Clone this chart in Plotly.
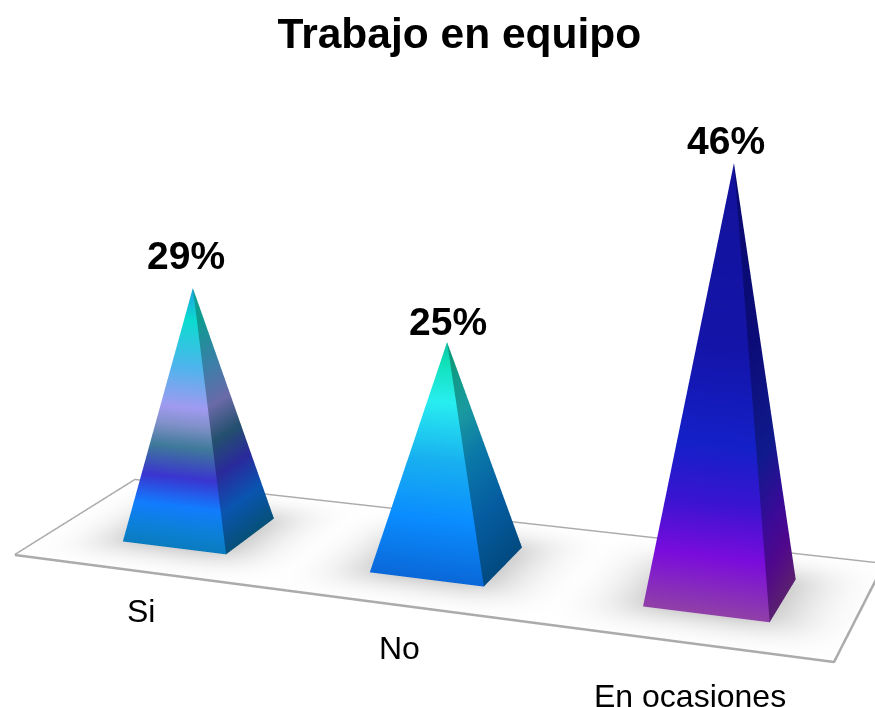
import numpy as np
import plotly.graph_objects as go

# Chart content
categories = ["Si", "No", "En ocasiones"]
values = [29, 25, 46]
chart_title = "Trabajo en equipo"

# Page size and the fixed 45 degree lens of the 3D scene
WIDTH, HEIGHT = 875, 707
FOCAL = (HEIGHT / 2) / np.tan(np.pi / 8)
EYE_DIST = 2.0

# Perspective of the chart: where the floor's corners fall on the page,
# and the point on the page where vertical lines converge
FLOOR_SIZE = (3.0, 1.0)
FLOOR_PAGE = [(15, 555), (834, 662), (884, 564), (135, 480)]
VERTICAL_VANISH = (440, 9500)
HEIGHT_GAIN = -0.00095

BASE_HALF = (0.215, 0.225)
BASE_DEPTH = 0.505
CENTRE_OFFSET = 0.525

# Text placement around the marks
CATEGORY_SHIFT = [0.185, 0.14, 0.115]
CATEGORY_DEPTH = [-0.37, -0.375, -0.44]
VALUE_XSHIFT = [-7, 1, -8]
VALUE_YSHIFT = [32, 21, 23]


def floor_homography():
    w, d = FLOOR_SIZE
    src = [(0, 0), (w, 0), (w, d), (0, d)]
    rows, rhs = [], []
    for (x, y), (u, v) in zip(src, FLOOR_PAGE):
        rows.append([x, y, 1, 0, 0, 0, -u * x, -u * y])
        rows.append([0, 0, 0, x, y, 1, -v * x, -v * y])
        rhs += [u, v]
    h = np.linalg.solve(np.array(rows, float), np.array(rhs, float))
    H = np.append(h, 1).reshape(3, 3)
    return H / (H[2] @ np.array([w / 2, d / 2, 1]))


H = floor_homography()
VZ = HEIGHT_GAIN * np.array([VERTICAL_VANISH[0], VERTICAL_VANISH[1], 1.0])


def to_scene(x, y, h):
    """Chart coordinates (position, depth, value) to scene coordinates."""
    x, y, h = np.asarray(x, float), np.asarray(y, float), np.asarray(h, float)
    q = np.stack([x, y, np.ones_like(x)])
    uw, vw, w = H @ q + VZ.reshape(3, 1) * h
    sx = (uw - WIDTH / 2 * w) / FOCAL * EYE_DIST
    sz = -(vw - HEIGHT / 2 * w) / FOCAL * EYE_DIST
    sy = w * EYE_DIST - EYE_DIST
    return sx, sy, sz


# Colour ramps by share of the pyramid's height: lit face, then shaded face
front_ramps = [
    [[0, "#0a7cc0"], [.07, "#0c80d8"], [.16, "#127cff"], [.27, "#3a35d0"], [.39, "#3f7a9a"],
     [.47, "#7f90c8"], [.54, "#a09af0"], [.7, "#4cb5ec"], [.88, "#0bdcd0"], [1, "#1f9fe0"]],
    [[0, "#0a68d8"], [.25, "#0a8cff"], [.5, "#18b0f0"], [.75, "#28eef0"], [.92, "#10e0b8"], [1, "#10c0a8"]],
    [[0, "#9040a8"], [.13, "#7a0cdc"], [.25, "#3a14d0"], [.38, "#1420c8"], [.6, "#1414a8"], [1, "#12129c"]],
]
side_ramps = [
    [[0, "#06507a"], [.15, "#0a55b0"], [.29, "#2a2a9c"], [.42, "#24506e"], [.55, "#6a6aa8"],
     [.7, "#3a80a8"], [.87, "#0f9a90"], [1, "#10a090"]],
    [[0, "#024a80"], [.25, "#055ca0"], [.5, "#0a78a8"], [.7, "#1a9aa0"], [.9, "#0f9a80"], [1, "#0f9a80"]],
    [[0, "#5a2070"], [.1, "#50088c"], [.2, "#3a0a98"], [.35, "#101a8c"], [.6, "#0c0c78"], [1, "#0a0a70"]],
]

FLAT = dict(ambient=1.0, diffuse=0.0, specular=0.0, roughness=1.0, fresnel=0.0)
centres = [i + CENTRE_OFFSET for i in range(len(values))]

fig = go.Figure()

# Floor with soft shadows around each base
gx, gy = np.meshgrid(np.linspace(0, FLOOR_SIZE[0], 121), np.linspace(0, FLOOR_SIZE[1], 61))
shade = np.zeros_like(gx)
for c in centres:
    shade = np.maximum(shade, 0.30 * np.exp(-(((gx - c) / 0.29) ** 4 + ((gy - BASE_DEPTH) / 0.29) ** 4) ** 0.6))
sx, sy, sz = to_scene(gx.ravel(), gy.ravel(), np.full(gx.size, -0.02))
idx = np.arange(gx.size).reshape(gx.shape)
a, b, c_, d = idx[:-1, :-1].ravel(), idx[:-1, 1:].ravel(), idx[1:, 1:].ravel(), idx[1:, :-1].ravel()
fig.add_trace(go.Mesh3d(
    x=sx, y=sy, z=sz,
    i=np.r_[a, a], j=np.r_[b, c_], k=np.r_[c_, d],
    intensity=shade.ravel(), cmin=0, cmax=1,
    colorscale=[[0, "#ffffff"], [1, "#000000"]],
    showscale=False, lighting=FLAT, hoverinfo="skip",
))

# Floor outline
ex = [0, FLOOR_SIZE[0], FLOOR_SIZE[0], 0, 0]
ey = [0, 0, FLOOR_SIZE[1], FLOOR_SIZE[1], 0]
lx, ly, lz = to_scene(ex, ey, np.zeros(5))
fig.add_trace(go.Scatter3d(
    x=lx, y=ly, z=lz, mode="lines",
    line=dict(color="#ababab", width=5), hoverinfo="skip", showlegend=False,
))

# One pyramid per category: the lit front face and the shaded right face
annotations = []
for i, (cat, val) in enumerate(zip(categories, values)):
    cx = centres[i]
    hw, hd = BASE_HALF
    fl, fr, br = (cx - hw, BASE_DEPTH - hd), (cx + hw, BASE_DEPTH - hd), (cx + hw, BASE_DEPTH + hd)
    apex = (cx, BASE_DEPTH)
    for p, q, ramp in ((fl, fr, front_ramps[i]), (fr, br, side_ramps[i])):
        mx, my, mz = to_scene([p[0], q[0], apex[0]], [p[1], q[1], apex[1]], [0, 0, val])
        fig.add_trace(go.Mesh3d(
            x=mx, y=my, z=mz, i=[0], j=[1], k=[2],
            intensity=[0, 0, val], cmin=0, cmax=val,
            colorscale=ramp, showscale=False, lighting=FLAT,
            name=cat, hoverinfo="skip",
        ))
    ax, ay, az = to_scene([apex[0]], [apex[1]], [val])
    annotations.append(dict(
        x=ax[0], y=ay[0], z=az[0], text=f"{val}%", showarrow=False,
        yshift=VALUE_YSHIFT[i], xshift=VALUE_XSHIFT[i],
        font=dict(family="Liberation Sans", size=39, color="#000000", weight="bold"),
    ))
    tx, ty, tz = to_scene([cx + CATEGORY_SHIFT[i]], [CATEGORY_DEPTH[i]], [0])
    annotations.append(dict(
        x=tx[0], y=ty[0], z=tz[0], text=cat, showarrow=False,
        font=dict(family="Liberation Sans", size=32, color="#000000"),
    ))

hidden = dict(visible=False, range=[-2, 2], autorange=False)
fig.update_layout(
    width=WIDTH, height=HEIGHT,
    margin=dict(l=0, r=0, t=0, b=0),
    paper_bgcolor="#ffffff",
    showlegend=False,
    title=dict(
        text=chart_title, x=0.525, xanchor="center", y=1 - 33 / HEIGHT, yanchor="middle",
        font=dict(family="Liberation Sans", size=42.5, color="#000000", weight="bold"),
    ),
    scene=dict(
        domain=dict(x=[0, 1], y=[0, 1]),
        xaxis=hidden, yaxis=hidden, zaxis=hidden,
        aspectmode="manual", aspectratio=dict(x=4, y=4, z=4),
        camera=dict(
            eye=dict(x=0, y=-EYE_DIST, z=0),
            center=dict(x=0, y=0, z=0),
            up=dict(x=0, y=0, z=1),
        ),
        annotations=annotations,
        bgcolor="#ffffff",
    ),
)
fig.write_html("out.html", config=dict(displayModeBar=False))
